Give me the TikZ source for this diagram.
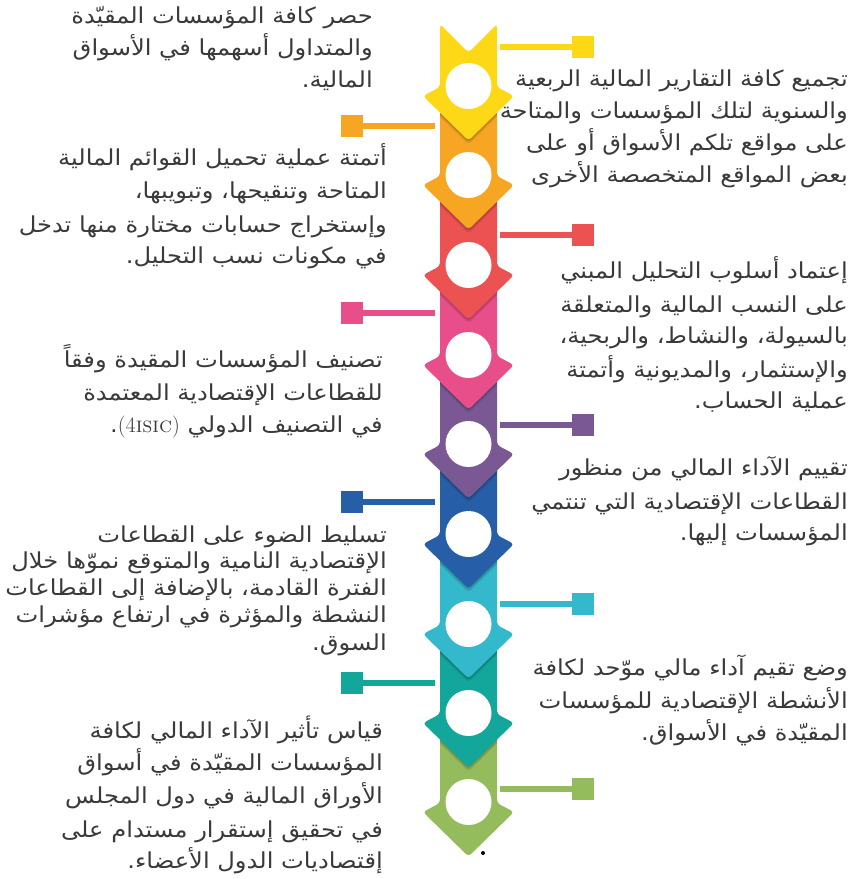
\documentclass[tikz,border=0pt]{standalone}
\usepackage{fontspec}
\newfontfamily\arabicfont[Script=Arabic,FakeStretch=1.1]{DejaVu Sans}
\TeXXeTstate=1
\definecolor{cyellow}{HTML}{FDD816}
\definecolor{corange}{HTML}{F7A623}
\definecolor{cred}{HTML}{EC5252}
\definecolor{cpink}{HTML}{E84E8A}
\definecolor{cpurple}{HTML}{7A5894}
\definecolor{cblue}{HTML}{265EA8}
\definecolor{ccyan}{HTML}{34B8CC}
\definecolor{cteal}{HTML}{13A79C}
\definecolor{cgreen}{HTML}{94BC5C}
\definecolor{textgray}{HTML}{3A3A3A}
\tikzset{
  txt/.style={inner sep=0pt, text=textgray, font=\arabicfont\fontsize{22}{24}\selectfont, anchor=base east},
  sq/.style={rectangle, minimum size=22pt, inner sep=0pt},
  conn/.style={line width=6pt},
  hole/.style={circle, fill=white, minimum size=46pt, inner sep=0pt},
  arrowfill/.style={rounded corners=3.5pt},
}
\newcommand\tline[4]{\node[txt] (#1) at (#2,#3) {#4};}
\newcommand\arrowpath[2]{(440,#2) -- (497,#2) -- (497,#1+1) -- (514,#1+10) -- (468.5,#1+54.5) -- (423,#1+10) -- (440,#1+1) -- cycle}
\newcommand\arrowshadow[1]{%
  \begin{scope}
    \clip (440,#1) rectangle (497,#1+62);
    \fill[black,opacity=.10,yshift=-4pt,arrowfill] \arrowpath{#1}{#1-10};
    \fill[black,opacity=.12,yshift=-2pt,arrowfill] \arrowpath{#1}{#1-10};
  \end{scope}}
\begin{document}
\begin{tikzpicture}[x=1pt,y=-1pt]
\useasboundingbox (0,0) rectangle (856,879);

% ---------- texts (drawn first, arrows may cover them) ----------
% L1
\tline{la1}{373}{23}{\beginR حصر كافة المؤسسات المقيّدة\endR}
\tline{la2}{373}{55}{\beginR والمتداول أسهمها في الأسواق\endR}
\tline{la3}{373}{87}{\beginR المالية.\endR}
% R1
\tline{ra1}{848}{86}{\beginR تجميع كافة التقارير المالية الربعية\endR}
\tline{ra2}{848}{118}{\beginR والسنوية لتلك المؤسسات والمتاحة\endR}
\tline{ra3}{848}{150}{\beginR على مواقع تلكم الأسواق أو على\endR}
\tline{ra4}{848}{182}{\beginR بعض المواقع المتخصصة الأخرى\endR}
% L2
\tline{lb1}{387}{165}{\beginR أتمتة عملية تحميل القوائم المالية\endR}
\tline{lb2}{387}{198}{\beginR المتاحة وتنقيحها، وتبويبها،\endR}
\tline{lb3}{387}{232}{\beginR وإستخراج حسابات مختارة منها تدخل\endR}
\tline{lb4}{387}{263}{\beginR في مكونات نسب التحليل.\endR}
% R2
\tline{rb1}{848}{278}{\beginR إعتماد أسلوب التحليل المبني\endR}
\tline{rb2}{848}{312}{\beginR على النسب المالية والمتعلقة\endR}
\tline{rb3}{848}{343}{\beginR بالسيولة، والنشاط، والربحية،\endR}
\tline{rb4}{848}{377}{\beginR والإستثمار، والمديونية وأتمتة\endR}
\tline{rb5}{848}{408}{\beginR عملية الحساب.\endR}
% L3
\tline{lc1}{383}{367}{\beginR تصنيف المؤسسات المقيدة وفقاً\endR}
\tline{lc2}{383}{400}{\beginR للقطاعات الإقتصادية المعتمدة\endR}
\tline{lc3}{383}{432}{\beginR في التصنيف الدولي \beginL{\rmfamily(4\textsc{isic})}\endL.\endR}
% R3
\tline{rc1}{848}{475}{\beginR تقييم الآداء المالي من منظور\endR}
\tline{rc2}{848}{509}{\beginR القطاعات الإقتصادية التي تنتمي\endR}
\tline{rc3}{848}{540}{\beginR المؤسسات إليها.\endR}
% L4
\tline{ld1}{387}{542}{\beginR تسليط الضوء على القطاعات\endR}
\tline{ld2}{387}{568}{\beginR الإقتصادية النامية والمتوقع نموّها خلال\endR}
\tline{ld3}{387}{595}{\beginR الفترة القادمة، بالإضافة إلى القطاعات\endR}
\tline{ld4}{387}{622}{\beginR النشطة والمؤثرة في ارتفاع مؤشرات\endR}
\tline{ld5}{387}{650}{\beginR السوق.\endR}
% R4
\tline{rd1}{848}{675}{\beginR وضع تقيم آداء مالي موّحد لكافة\endR}
\tline{rd2}{848}{708}{\beginR الأنشطة الإقتصادية للمؤسسات\endR}
\tline{rd3}{848}{740}{\beginR المقيّدة في الأسواق.\endR}
% L5
\tline{le1}{383}{738}{\beginR قياس تأثير الآداء المالي لكافة\endR}
\tline{le2}{383}{770}{\beginR المؤسسات المقيّدة في أسواق\endR}
\tline{le3}{383}{803}{\beginR الأوراق المالية في دول المجلس\endR}
\tline{le4}{383}{837}{\beginR في تحقيق إستقرار مستدام على\endR}
\tline{le5}{383}{868}{\beginR إقتصاديات الدول الأعضاء.\endR}

% ---------- arrows (bottom to top) ----------
\fill[cgreen,arrowfill] \arrowpath{802}{716};
\node[hole] (h9) at (468.5,802) {};
\arrowshadow{713}
\fill[cteal,arrowfill] \arrowpath{713}{627};
\node[hole] (h8) at (468.5,713) {};
\arrowshadow{624}
\fill[ccyan,arrowfill] \arrowpath{624}{537};
\node[hole] (h7) at (468.5,624) {};
\arrowshadow{534}
\fill[cblue,arrowfill] \arrowpath{534}{447};
\node[hole] (h6) at (468.5,534) {};
\arrowshadow{444}
\fill[cpurple,arrowfill] \arrowpath{444}{358};
\node[hole] (h5) at (468.5,444) {};
\arrowshadow{355}
\fill[cpink,arrowfill] \arrowpath{355}{268};
\node[hole] (h4) at (468.5,355) {};
\arrowshadow{265}
\fill[cred,arrowfill] \arrowpath{265}{178};
\node[hole] (h3) at (468.5,265) {};
\arrowshadow{175}
\fill[corange,arrowfill] \arrowpath{175}{89};
\node[hole] (h2) at (468.5,175) {};
\arrowshadow{86}
\fill[cyellow,arrowfill] (440,24) -- (468.5,52.5) -- (497,24) -- (497,87) -- (514,96) -- (468.5,140.5) -- (423,96) -- (440,87) -- cycle;
\node[hole] (h1) at (468.5,86) {};

% ---------- connectors ----------
\node[sq,fill=cyellow] (s1) at (583,46.5) {};
\coordinate (e1) at (500,46.5);
\draw[conn,cyellow] (e1) -- (s1);
\node[sq,fill=corange] (s2) at (352,125.5) {};
\coordinate (e2) at (435,125.5);
\draw[conn,corange] (e2) -- (s2);
\node[sq,fill=cred] (s3) at (583,235) {};
\coordinate (e3) at (500,235);
\draw[conn,cred] (e3) -- (s3);
\node[sq,fill=cpink] (s4) at (352,313) {};
\coordinate (e4) at (435,313);
\draw[conn,cpink] (e4) -- (s4);
\node[sq,fill=cpurple] (s5) at (583,424.5) {};
\coordinate (e5) at (500,424.5);
\draw[conn,cpurple] (e5) -- (s5);
\node[sq,fill=cblue] (s6) at (352,502) {};
\coordinate (e6) at (435,502);
\draw[conn,cblue] (e6) -- (s6);
\node[sq,fill=ccyan] (s7) at (583,603.5) {};
\coordinate (e7) at (500,603.5);
\draw[conn,ccyan] (e7) -- (s7);
\node[sq,fill=cteal] (s8) at (352,683) {};
\coordinate (e8) at (435,683);
\draw[conn,cteal] (e8) -- (s8);
\node[sq,fill=cgreen] (s9) at (583,788.5) {};
\coordinate (e9) at (500,788.5);
\draw[conn,cgreen] (e9) -- (s9);

% small dot
\fill[black] (483,853) circle (2pt);
\end{tikzpicture}
\end{document}
